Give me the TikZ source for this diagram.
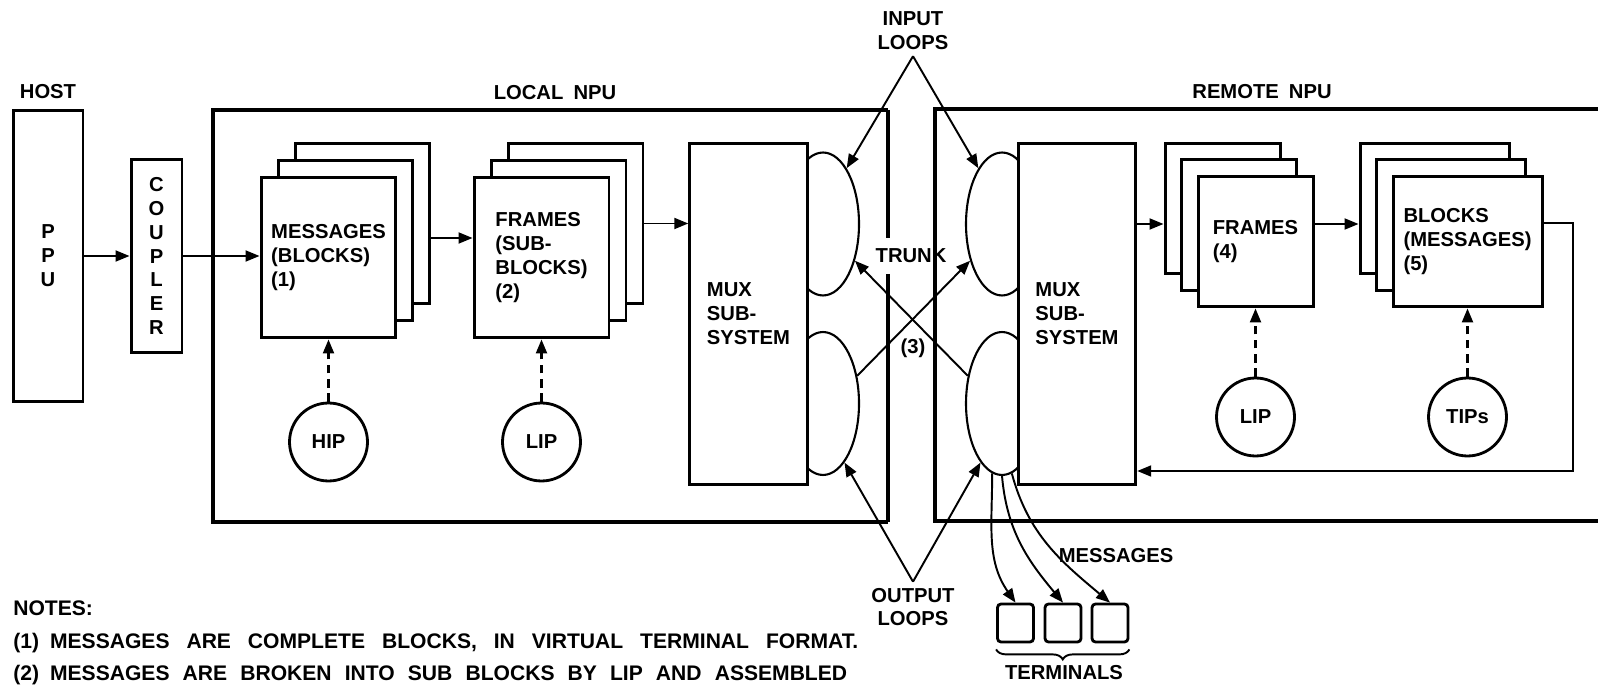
\documentclass[tikz,border=0pt]{standalone}
\usepackage{fontspec}
\setmainfont{Liberation Sans}
\usetikzlibrary{positioning,arrows.meta,shapes.geometric,decorations.pathreplacing,calc}

\begin{document}
\begin{tikzpicture}[
  x=0.02cm, y=-0.02cm,
  font=\fontsize{11.5}{13.6}\selectfont\bfseries,
  box/.style={draw, line width=1.7pt, fill=white, inner sep=0pt, align=left},
  page/.style={box, minimum width=2.7cm, minimum height=3.22cm},
  rpage/.style={box, minimum width=2.3cm, minimum height=2.62cm},
  bpage/.style={box, minimum width=2.98cm, minimum height=2.62cm},
  mux/.style={box, minimum width=2.35cm, minimum height=6.84cm},
  loop/.style={draw, ellipse, line width=1.2pt, fill=white, minimum width=1.44cm,
               minimum height=2.86cm, inner sep=0pt},
  proc/.style={draw, circle, line width=1.6pt, minimum size=1.56cm, inner sep=0pt},
  term/.style={draw, line width=1.6pt, rounded corners=2pt, minimum width=0.72cm,
               minimum height=0.76cm},
  npu/.style={line width=2pt},
  trunk/.style={line width=2.8pt},
  ar/.style={-{Triangle[length=2.8mm,width=2.2mm]}, line width=1.1pt},
  dar/.style={ar, line width=1.3pt, dash pattern=on 5pt off 3pt},
  note/.style={anchor=base west, inner sep=0pt, font=\fontsize{12}{14}\selectfont\bfseries},
]
\useasboundingbox (0,0) rectangle (1598,685);

% host side
\node (host) at (48,92) {HOST};
\node[box, align=center, minimum width=1.4cm, minimum height=5.82cm] (ppu) at (48,256) {P\\P\\U};
\node[box, align=center, minimum width=1.02cm, minimum height=3.88cm] (cpl) at (156.5,256)
  {C\\O\\U\\P\\L\\E\\R};
\draw[ar] (ppu) -- (cpl);

% NPU frames and trunk
\node (lnpu) at (555,93) {LOCAL\enspace NPU};
\node (rnpu) at (1262,92) {REMOTE\enspace NPU};
\draw[npu] (888,110) -- (213,110) -- (213,522) -- (888,522);
\draw[npu] (1598,109) -- (935,109) -- (935,521) -- (1598,521);
\draw[trunk] (888,110) -- (888,238) (888,274) -- (888,522);
\draw[trunk] (935,109) -- (935,238) (935,274) -- (935,521);
\node (trk) at (911,256) {TRUNK};
\node (three) at (913,348) {(3)};

% local pages
\foreach \n/\cx/\txt in {msg/328.5/{MESSAGES\\(BLOCKS)\\(1)},
                         frm/541.5/{FRAMES\\(SUB-\\BLOCKS)\\(2)}} {
  \node[page] (\n3) at (\cx+34,223.5) {};
  \node[page] (\n2) at (\cx+17,240.5) {};
  \node[page] (\n1) at (\cx,257.5) {\txt};
}
\draw[ar] (cpl.east) -- (cpl.east -| msg1.west);
\draw[ar] ([yshift=-0.29cm]msg3.east) -- ([yshift=-0.29cm]msg3.east -| frm1.west);

% remote pages
\foreach \s in {3,2} {
  \node[rpage] (rfrm\s) at ({1255.5-16.5*(\s-1)},{241.5-16.5*(\s-1)}) {};
  \node[bpage] (rblk\s) at ({1467.5-16.5*(\s-1)},{241.5-16.5*(\s-1)}) {};
}
\node[rpage] (rfrm1) at (1255.5,241.5) {FRAMES\\(4)};
\node[bpage] (rblk1) at (1467.5,241.5) {BLOCKS\\(MESSAGES)\\(5)};

% loops
\node[loop] (eul) at (823,224) {};
\node[loop] (ell) at (823,403.5) {};
\node[loop] (eur) at (1002,224) {};
\node[loop] (elr) at (1002,403.5) {};

% mux subsystems
\node[mux] (mux) at (748.5,314) {MUX\\SUB-\\SYSTEM};
\node[mux] (rmux) at (1077,314) {MUX\\SUB-\\SYSTEM};
\draw[ar] (frm3.east) -- (frm3.east -| mux.west);
\coordinate (rin) at ([yshift=-0.31cm]rfrm3.west);
\draw[ar] (rmux.east |- rin) -- (rin);
\draw[ar] ([yshift=0.35cm]rfrm1.east) -- ([yshift=0.35cm]rfrm1.east -| rblk3.west);
\coordinate (fbk) at (1573,471);
\draw[ar] ([yshift=0.37cm]rblk1.east) -| (fbk) -- (fbk -| rmux.east);

% interface programs
\node[proc] (hip) at (328.5,442) {HIP};
\node[proc] (lip) at (541.5,442) {LIP};
\node[proc] (rlip) at (1255.5,417) {LIP};
\node[proc] (tips) at (1467.5,417) {TIPs};
\foreach \a/\b in {hip/msg1, lip/frm1, rlip/rfrm1, tips/rblk1} {
  \draw[dar] (\a) -- (\b);
}

% loop labels
\node[align=center] (inl) at (913,31) {INPUT\\LOOPS};
\node[align=center] (outl) at (913,607) {OUTPUT\\LOOPS};
\draw[ar] (inl.south) -- (eul.67);
\draw[ar] (inl.south) -- (eur.113);
\draw[ar] (outl.north) -- (ell.-70);
\draw[ar] (outl.north) -- (elr.-110);
\draw[ar] (ell.39) -- (eur.229);
\draw[ar] (elr.141) -- (eul.-49);

% terminals
\node[term] (t1) at (1015.5,623) {};
\node[term] (t2) at (1063,623) {};
\node[term] (t3) at (1110,623) {};
\draw[ar] (elr.-98) to[out=-90,in=125] (t1.north);
\draw[ar] (elr.-90) to[out=-85,in=130] (t2.north);
\draw[ar] (elr.-82) to[out=-75,in=140] (t3.north);
\node (mlbl) at (1116,556) {MESSAGES};
\draw[line width=1.1pt, decorate, decoration={brace, mirror, amplitude=0.2cm}]
  ([yshift=-0.12cm]t1.south west) -- ([yshift=-0.12cm]t3.south east);
\node (tlbl) at (1064,673) {TERMINALS};

% notes
\node[note] (notes) at (13,615) {NOTES:};
\node[note] (note1) at (13,648)
  {\makebox[16.9cm][s]{(1)\hspace{0.22cm}MESSAGES ARE COMPLETE BLOCKS, IN VIRTUAL TERMINAL FORMAT.}};
\node[note] (note2) at (13,680)
  {\makebox[16.68cm][s]{(2)\hspace{0.22cm}MESSAGES ARE BROKEN INTO SUB BLOCKS BY LIP AND ASSEMBLED}};
\end{tikzpicture}
\end{document}
